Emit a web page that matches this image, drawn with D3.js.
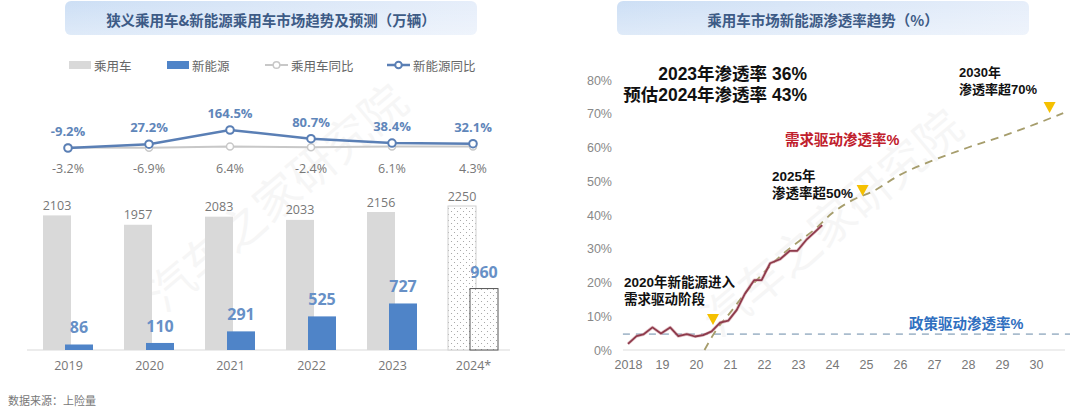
<!DOCTYPE html>
<html><head><meta charset="utf-8">
<script src="https://cdn.jsdelivr.net/npm/d3@7/dist/d3.min.js"></script>
<style>
html,body{margin:0;padding:0;background:#fff;}
svg{display:block;font-family:"Open Sans","Noto Sans CJK SC",sans-serif;}
</style></head>
<body>
<svg id="chart" width="1080" height="413"></svg>
<script>
// ---------- Left chart data ----------
const years = ["2019","2020","2021","2022","2023","2024*"];
const pcSales = [2103,1957,2083,2033,2156,2250];
const nevSales = [86,110,291,525,727,960];
const pcYoY = [-3.2,-6.9,6.4,-2.4,6.1,4.3];
const nevYoY = [-9.2,27.2,164.5,80.7,38.4,32.1];
const legendNames = ["乘用车","新能源","乘用车同比","新能源同比"];

// ---------- Right chart data ----------
const penYears  = [2018.00,2018.25,2018.45,2018.72,2018.97,2019.24,2019.48,2019.73,2019.97,2020.21,2020.46,2020.71,2020.95,2021.20,2021.44,2021.71,2021.93,2022.18,2022.47,2022.76,2022.98,2023.26,2023.50,2023.71];
const penValues = [1.8,4.1,4.6,6.7,4.9,6.7,4.1,4.7,4.0,4.4,5.5,8.1,8.7,11.9,16.7,20.7,20.7,25.7,26.9,29.4,29.4,32.8,35.0,37.0];
const demandYears  = [2020.25,2020.6,2021.0,2021.5,2022.0,2022.5,2023.0,2023.5,2024.0,2024.6,2025.2,2026.0,2027.0,2028.0,2029.0,2030.0,2030.8];
const demandValues = [0,6,11,17.5,23,28,32,35.8,40.5,44.4,47,51.9,56.3,60,63.3,67,70.2];
const policyYears  = [2017.85,2031.0];
const policyValues = [4.7,4.7];
const xTickYears = [2018,2019,2020,2021,2022,2023,2024,2025,2026,2027,2028,2029,2030];
const xTickLabels = ["2018","19","20","21","22","23","24","25","26","27","28","29","30"];
const yTicks = [0,10,20,30,40,50,60,70,80];
const markerYears = [2020.5,2024.9,2030.4];
const markerValues = [7.4,45.6,70.2];

const svg = d3.select("#chart");
const defs = svg.append("defs");

const g = defs.append("linearGradient").attr("id","tg").attr("x1",0).attr("x2",1).attr("y1",0).attr("y2",0);
g.append("stop").attr("offset","0%").attr("stop-color","#cddff5");
g.append("stop").attr("offset","100%").attr("stop-color","#e6eefa");
const gv = defs.append("linearGradient").attr("id","tgv").attr("x1",0).attr("x2",0).attr("y1",0).attr("y2",1);
gv.append("stop").attr("offset","0%").attr("stop-color","#fff").attr("stop-opacity",0);
gv.append("stop").attr("offset","100%").attr("stop-color","#fff").attr("stop-opacity",0.35);

const pat = defs.append("pattern").attr("id","dots").attr("patternUnits","userSpaceOnUse").attr("width",6).attr("height",6);
pat.append("rect").attr("width",6).attr("height",6).attr("fill","#fff");
pat.append("circle").attr("cx",1.5).attr("cy",1.5).attr("r",0.55).attr("fill","#9a9a9a");
pat.append("circle").attr("cx",4.5).attr("cy",4.5).attr("r",0.55).attr("fill","#9a9a9a");

function titleBox(x,w,text,size){
  svg.append("rect").attr("x",x).attr("y",1).attr("width",w).attr("height",34).attr("rx",6).attr("fill","url(#tg)");
  svg.append("rect").attr("x",x).attr("y",1).attr("width",w).attr("height",34).attr("rx",6).attr("fill","url(#tgv)");
  svg.append("text").attr("x",x+w/2).attr("y",19).attr("text-anchor","middle").attr("dominant-baseline","central")
    .attr("font-size",size).attr("font-weight","bold").attr("fill","#3d5b86")
    .attr("font-family","'Noto Sans CJK SC',sans-serif").text(text);
}
titleBox(65,412,"狭义乘用车&新能源乘用车市场趋势及预测（万辆）",14.5);
titleBox(617,412,"乘用车市场新能源渗透率趋势（%）",14.5);

[[275,195],[830,220]].forEach(([cx,cy])=>{
  svg.append("text").attr("transform",`translate(${cx},${cy}) rotate(-40)`).attr("text-anchor","middle")
   .attr("dominant-baseline","central").attr("font-size",46).attr("fill","#000").attr("opacity",0.03)
   .attr("font-family","'Noto Sans CJK SC',sans-serif").text("汽车之家研究院");
});

// ================= LEFT CHART =================
const xL = d3.scalePoint().domain(years).range([68,473]);
const yBar = d3.scaleLinear().domain([0,2250]).range([350,206]);
const yYoY = d3.scaleLinear().domain([-9.2,164.5]).range([148,130]);
const barW = 28;
const left = svg.append("g");

const lg = left.append("g").attr("font-size",12.5).attr("fill","#666").attr("font-family","'Noto Sans CJK SC',sans-serif");
lg.append("rect").attr("x",69).attr("y",61).attr("width",22).attr("height",8).attr("fill","#d9d9d9");
lg.append("text").attr("x",94).attr("y",65).attr("dominant-baseline","central").text(legendNames[0]);
lg.append("rect").attr("x",167).attr("y",61).attr("width",22).attr("height",8).attr("fill","#4f84c8");
lg.append("text").attr("x",192).attr("y",65).attr("dominant-baseline","central").text(legendNames[1]);
lg.append("line").attr("x1",265).attr("x2",288).attr("y1",65).attr("y2",65).attr("stroke","#c8c8c8").attr("stroke-width",2);
lg.append("circle").attr("cx",276.5).attr("cy",65).attr("r",3.3).attr("fill","#fff").attr("stroke","#c8c8c8").attr("stroke-width",1.5);
lg.append("text").attr("x",291).attr("y",65).attr("dominant-baseline","central").text(legendNames[2]);
lg.append("line").attr("x1",387).attr("x2",410).attr("y1",65).attr("y2",65).attr("stroke","#5a7fb5").attr("stroke-width",2.5);
lg.append("circle").attr("cx",398.5).attr("cy",65).attr("r",3.3).attr("fill","#fff").attr("stroke","#5a7fb5").attr("stroke-width",2);
lg.append("text").attr("x",413).attr("y",65).attr("dominant-baseline","central").text(legendNames[3]);

const axL = left.append("g").attr("transform","translate(0,350)")
  .call(d3.axisBottom(xL).tickSize(0).tickPadding(11));
axL.select(".domain").remove();
axL.selectAll("text").attr("font-size",12.5).attr("fill","#777").attr("font-family","'Open Sans',sans-serif");
left.append("line").attr("x1",27).attr("x2",510).attr("y1",350).attr("y2",350).attr("stroke","#d9d9d9").attr("stroke-width",1);

years.forEach((yr,i)=>{
  const c = xL(yr);
  const fc = i===years.length-1;
  left.append("rect").attr("x",c-25).attr("y",yBar(pcSales[i])).attr("width",barW)
    .attr("height",350-yBar(pcSales[i]))
    .attr("fill",fc?"url(#dots)":"#d9d9d9").attr("stroke",fc?"#cfcfcf":"none").attr("stroke-width",1);
  left.append("rect").attr("x",c-3).attr("y",yBar(nevSales[i])).attr("width",barW)
    .attr("height",350-yBar(nevSales[i]))
    .attr("fill",fc?"url(#dots)":"#4f84c8").attr("stroke",fc?"#555":"none").attr("stroke-width",1);
  left.append("text").attr("x",c-11).attr("y",yBar(pcSales[i])-10).attr("text-anchor","middle")
    .attr("dominant-baseline","central").attr("font-size",12.5).attr("fill","#777").text(pcSales[i]);
  left.append("text").attr("x",c+11).attr("y",yBar(nevSales[i])-17).attr("text-anchor","middle")
    .attr("dominant-baseline","central").attr("font-size",16).attr("font-weight","bold").attr("fill","#6790c6").text(nevSales[i]);
});

const lineL = (arr)=>d3.line().x((d,i)=>xL(years[i])).y(d=>yYoY(d))(arr);
left.append("path").attr("d",lineL(pcYoY)).attr("fill","none").attr("stroke","#c8c8c8").attr("stroke-width",2);
pcYoY.forEach((v,i)=>{
  left.append("circle").attr("cx",xL(years[i])).attr("cy",yYoY(v)).attr("r",3.5).attr("fill","#fff").attr("stroke","#c8c8c8").attr("stroke-width",1.5);
  left.append("text").attr("x",xL(years[i])).attr("y",168).attr("text-anchor","middle").attr("dominant-baseline","central")
    .attr("font-size",12.5).attr("fill","#777").text(v.toFixed(1)+"%");
});
left.append("path").attr("d",lineL(nevYoY)).attr("fill","none").attr("stroke","#5a7fb5").attr("stroke-width",2.5);
nevYoY.forEach((v,i)=>{
  left.append("circle").attr("cx",xL(years[i])).attr("cy",yYoY(v)).attr("r",3.8).attr("fill","#fff").attr("stroke","#5a7fb5").attr("stroke-width",2);
  left.append("text").attr("x",xL(years[i])).attr("y",yYoY(v)-17).attr("text-anchor","middle").attr("dominant-baseline","central")
    .attr("font-size",13).attr("font-weight","bold").attr("fill","#5f86ba").text(v.toFixed(1)+"%");
});

svg.append("text").attr("x",8).attr("y",400).attr("dominant-baseline","central").attr("font-size",11)
  .attr("fill","#777").attr("font-family","'Noto Sans CJK SC',sans-serif").text("数据来源：上险量");

// ================= RIGHT CHART =================
const xR = d3.scaleLinear().domain([2018,2030]).range([628,1036]);
const yR = d3.scaleLinear().domain([0,80]).range([350,80]);
const right = svg.append("g");

const ay = right.append("g").attr("transform","translate(612,0)")
  .call(d3.axisLeft(yR).tickValues(yTicks).tickSize(0).tickPadding(0).tickFormat(d=>d+"%"));
ay.select(".domain").remove();
ay.selectAll("text").attr("font-size",12.5).attr("fill","#888");

right.append("line").attr("x1",623).attr("x2",1065).attr("y1",yR(0)).attr("y2",yR(0)).attr("stroke","#ddd").attr("stroke-width",1);
const ax = right.append("g").attr("transform",`translate(0,${yR(0)})`)
  .call(d3.axisBottom(xR).tickValues(xTickYears).tickSize(0).tickPadding(10).tickFormat((d,i)=>xTickLabels[i]));
ax.select(".domain").remove();
ax.selectAll("text").attr("font-size",12.5).attr("fill","#777");

const lineR = (xs,vs)=>d3.line().x((d,i)=>xR(xs[i])).y(d=>yR(d))(vs);
right.append("path").attr("d",lineR(policyYears,policyValues)).attr("fill","none")
  .attr("stroke","#a9bccd").attr("stroke-width",1.6).attr("stroke-dasharray","7,6");
right.append("path").attr("d",d3.line().curve(d3.curveMonotoneX).x((d,i)=>xR(demandYears[i])).y(d=>yR(d))(demandValues))
  .attr("fill","none").attr("stroke","#a69d6c").attr("stroke-width",1.8).attr("stroke-dasharray","8,6");
right.append("path").attr("d",lineR(penYears,penValues)).attr("fill","none")
  .attr("stroke","#c98b95").attr("stroke-width",3.2).attr("stroke-opacity",0.5).attr("stroke-linejoin","round");
right.append("path").attr("d",lineR(penYears,penValues)).attr("fill","none")
  .attr("stroke","#8e3a4b").attr("stroke-width",1.8).attr("stroke-linejoin","round");

markerYears.forEach((yv,i)=>{
  const tx = xR(yv), ty = yR(markerValues[i]);
  right.append("path").attr("d",`M${tx-6},${ty-11}L${tx+6},${ty-11}L${tx},${ty}Z`).attr("fill","#f5c000");
});

const annFont = "'Liberation Sans','Noto Sans CJK SC',sans-serif";
function label(x,y,lines,size,color,anchor,lh){
  lines.forEach((s,i)=>{
    right.append("text").attr("x",x).attr("y",y+i*lh).attr("text-anchor",anchor||"start").attr("dominant-baseline","central")
      .attr("font-size",size).attr("font-weight","bold").attr("fill",color).attr("font-family",annFont).text(s);
  });
}
label(807,74,["2023年渗透率 36%","预估2024年渗透率 43%"],17.5,"#111","end",20.5);
label(959,72,["2030年","渗透率超70%"],13,"#111","start",17.5);
label(772,176,["2025年","渗透率超50%"],13.5,"#111","start",17.5);
label(624,282,["2020年新能源进入","需求驱动阶段"],13.5,"#111","start",17.5);
label(785,140,["需求驱动渗透率%"],14.5,"#c0202c","start",0);
label(909,324,["政策驱动渗透率%"],14.5,"#2f6fc0","start",0);
</script>
</body></html>
